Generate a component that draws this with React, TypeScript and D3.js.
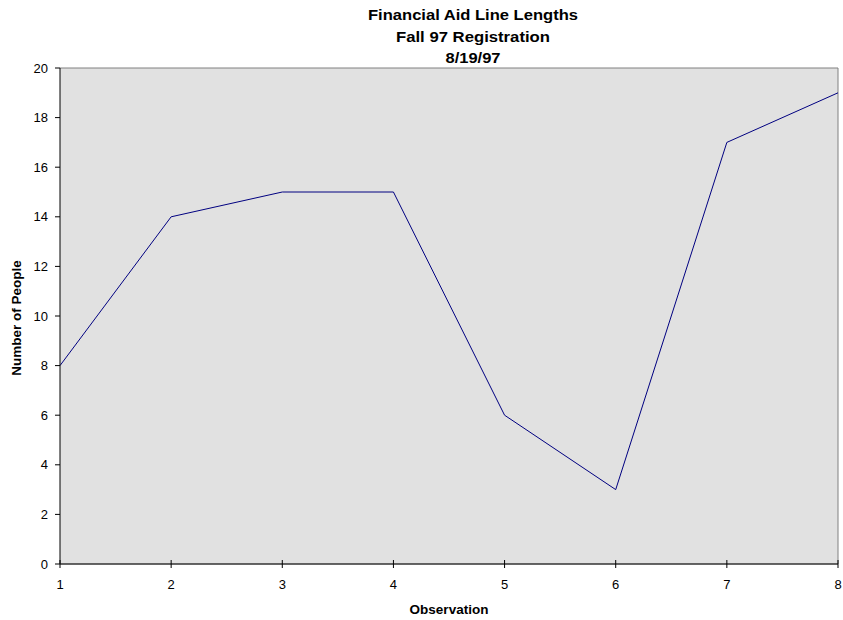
import React from "react";
import * as d3 from "d3";

const observations = [1, 2, 3, 4, 5, 6, 7, 8];
const people = [8, 14, 15, 15, 6, 3, 17, 19];
const yTicks = [0, 2, 4, 6, 8, 10, 12, 14, 16, 18, 20];
const titleLines = ["Financial Aid Line Lengths", "Fall 97 Registration", "8/19/97"];
const titleWidths = [210, 154, 55];

export default function App() {
  const W = 843, H = 620;
  const left = 60, right = 838, top = 68, bottom = 564;
  const x = d3.scaleLinear().domain([1, 8]).range([left, right]);
  const y = d3.scaleLinear().domain([0, 20]).range([bottom, top]);
  const line = d3.line<number>().x((_, i) => x(observations[i])).y((d) => y(d));
  const font = "Arial, 'Liberation Sans', sans-serif";
  return (
    <svg width={W} height={H} style={{ position: "absolute", left: 0, top: 0, background: "#fff" }} fontFamily={font}>
      <rect x={left} y={top} width={right - left} height={bottom - top} fill="#e1e1e1" />
      <line x1={left} x2={right} y1={top} y2={top} stroke="#808080" strokeWidth={1} />
      <line x1={right} x2={right} y1={top} y2={bottom} stroke="#808080" strokeWidth={1} />
      <path d={line(people) || ""} fill="none" stroke="#000080" strokeWidth={1} />
      <line x1={left} x2={left} y1={top} y2={bottom} stroke="#000" strokeWidth={1} />
      <line x1={left} x2={right} y1={bottom} y2={bottom} stroke="#333" strokeWidth={1.5} />
      {yTicks.map((t) => (
        <g key={t}>
          <line x1={left - 5} x2={left} y1={y(t)} y2={y(t)} stroke="#000" />
          <text x={left - 12} y={y(t)} dy="0.36em" textAnchor="end" fontSize={13}>{t}</text>
        </g>
      ))}
      {observations.map((o) => (
        <g key={o}>
          <line x1={x(o)} x2={x(o)} y1={bottom - 4} y2={bottom + 4} stroke="#000" />
          <text x={x(o)} y={bottom + 25} textAnchor="middle" fontSize={13}>{o}</text>
        </g>
      ))}
      {titleLines.map((t, i) => (
        <text key={t} x={473 - titleWidths[i] / 2} y={20 + i * 21.5} fontSize={15.5} fontWeight="bold"
          textLength={titleWidths[i]} lengthAdjust="spacingAndGlyphs">{t}</text>
      ))}
      <text x={449} y={614} textAnchor="middle" fontSize={13.5} fontWeight="bold">Observation</text>
      <text transform={`translate(21,${318}) rotate(-90)`} textAnchor="middle" fontSize={13.5} fontWeight="bold">Number of People</text>
    </svg>
  );
}
